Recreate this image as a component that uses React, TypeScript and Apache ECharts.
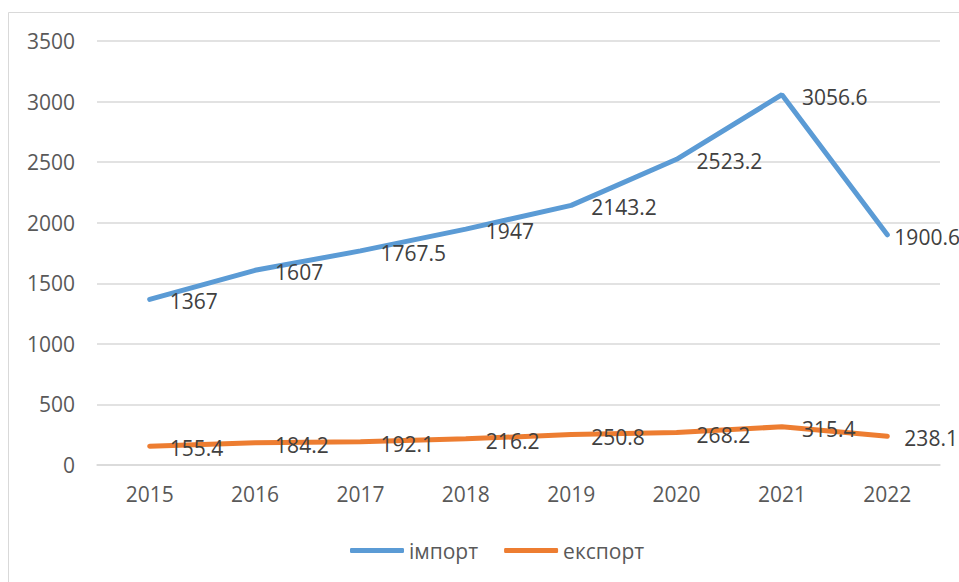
import React, { useEffect, useRef } from "react";
import * as echarts from "echarts";

const years = ["2015", "2016", "2017", "2018", "2019", "2020", "2021", "2022"];
const importValues = [1367, 1607, 1767.5, 1947, 2143.2, 2523.2, 3056.6, 1900.6];
const exportValues = [155.4, 184.2, 192.1, 216.2, 250.8, 268.2, 315.4, 238.1];
const seriesNames = ["імпорт", "експорт"];

const FONT = "'Open Sans', sans-serif";

export default function App() {
  const ref = useRef<HTMLDivElement>(null);
  useEffect(() => {
    if (!ref.current) return;
    const chart = echarts.init(ref.current, undefined, { renderer: "svg" });
    const label = {
      show: true,
      position: "right" as const,
      distance: 20,
      offset: [0, 2],
      color: "#404040",
      fontSize: 21,
      fontFamily: FONT,
    };
    const importData = importValues.map((v, i) =>
      i === importValues.length - 1 ? { value: v, label: { distance: 7 } } : v
    );
    const exportData = exportValues.map((v, i) =>
      i === exportValues.length - 1 ? { value: v, label: { distance: 17 } } : v
    );
    chart.setOption({
      animation: false,
      backgroundColor: "#fff",
      graphic: [
        {
          type: "rect",
          shape: { x: 8.5, y: 12.5, width: 1000, height: 1000 },
          style: { fill: "none", stroke: "#d9d9d9", lineWidth: 1 },
          silent: true,
        },
      ],
      grid: { left: 97, right: 19, top: 41, bottom: 117, containLabel: false },
      legend: {
        left: 345,
        top: 535,
        icon: "roundRect",
        itemWidth: 54,
        itemHeight: 5,
        itemGap: 26,
        textStyle: { color: "#595959", fontSize: 21, fontFamily: FONT },
        data: seriesNames,
      },
      xAxis: {
        type: "category",
        data: years,
        boundaryGap: true,
        axisLine: { show: true, lineStyle: { color: "#d9d9d9", width: 1.5 } },
        axisTick: { show: false },
        axisLabel: { color: "#595959", fontSize: 21, fontFamily: FONT, margin: 18 },
      },
      yAxis: {
        type: "value",
        min: 0,
        max: 3500,
        interval: 500,
        axisLine: { show: false },
        axisTick: { show: false },
        splitLine: { lineStyle: { color: "#d9d9d9", width: 1.5 } },
        axisLabel: {
          color: "#595959",
          fontSize: 21,
          fontFamily: FONT,
          margin: 22,
          formatter: (v: number) => String(v),
        },
      },
      series: [
        {
          name: seriesNames[0],
          type: "line",
          data: importData,
          color: "#5B9BD5",
          lineStyle: { width: 5, color: "#5B9BD5", cap: "round" },
          symbol: "circle",
          symbolSize: 0.1,
          showSymbol: true,
          label,
        },
        {
          name: seriesNames[1],
          type: "line",
          data: exportData,
          color: "#ED7D31",
          lineStyle: { width: 5, color: "#ED7D31", cap: "round" },
          symbol: "circle",
          symbolSize: 0.1,
          showSymbol: true,
          label,
        },
      ],
    });
    return () => chart.dispose();
  }, []);
  return <div ref={ref} style={{ width: 959, height: 582, position: "absolute", left: 0, top: 0 }} />;
}
